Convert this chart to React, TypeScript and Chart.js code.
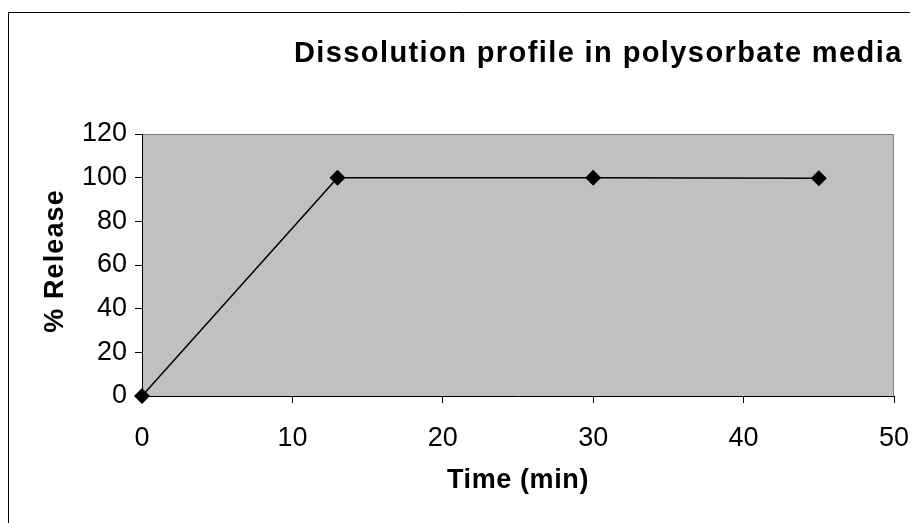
import React, { useEffect, useRef } from "react";
import { Chart, registerables } from "chart.js";

Chart.register(...registerables);

const chartTitle = "Dissolution profile in polysorbate media";
const xAxisTitle = "Time (min)";
const yAxisTitle = "% Release";
const timeMin = [0, 13, 30, 45];
const releasePct = [0, 100, 100, 99.7];

const FONT = "'Liberation Sans', Arial, Helvetica, sans-serif";

function spacedTitle(s: any, spacing: string, dy: number) {
  if (s._spacedPatched) return;
  const orig = s.drawTitle;
  s.drawTitle = function (...args: any[]) {
    const ctx = this.ctx;
    ctx.save();
    (ctx as any).letterSpacing = spacing;
    ctx.translate(0, dy);
    orig.apply(this, args);
    ctx.restore();
  };
  s._spacedPatched = true;
}

const decorPlugin = {
  id: "decor",
  beforeDraw(chart: any) {
    const { ctx, chartArea } = chart;
    const { left, top, right, bottom } = chartArea;
    ctx.save();
    // outer chart border (left & top visible)
    ctx.strokeStyle = "#000";
    ctx.lineWidth = 1;
    ctx.beginPath();
    ctx.moveTo(0.5, chart.height);
    ctx.lineTo(0.5, 4.5);
    ctx.lineTo(chart.width, 4.5);
    ctx.stroke();
    // plot area
    ctx.fillStyle = "#c0c0c0";
    ctx.fillRect(left, top, right - left, bottom - top);
    ctx.strokeStyle = "#808080";
    ctx.beginPath();
    ctx.moveTo(left, top + 0.5);
    ctx.lineTo(right - 0.5, top + 0.5);
    ctx.lineTo(right - 0.5, bottom);
    ctx.stroke();
    // title
    ctx.fillStyle = "#000";
    ctx.font = `bold 29px ${FONT}`;
    (ctx as any).letterSpacing = "1.4px";
    ctx.textAlign = "left";
    ctx.textBaseline = "alphabetic";
    ctx.fillText(chartTitle, 286, 54);
    ctx.restore();
  },
};

export default function App() {
  const ref = useRef<HTMLCanvasElement>(null);
  useEffect(() => {
    if (!ref.current) return;
    const chart = new Chart(ref.current, {
      type: "line",
      data: {
        datasets: [
          {
            data: timeMin.map((t, i) => ({ x: t, y: releasePct[i] })),
            borderColor: "#000",
            borderWidth: 1.5,
            pointStyle: "rectRot",
            pointRadius: 8,
            pointBackgroundColor: "#000",
            pointBorderColor: "#000",
            pointBorderWidth: 0,
            tension: 0,
            clip: false as any,
          },
        ],
      },
      options: {
        responsive: false,
        animation: false,
        layout: { padding: { top: 126, right: 24, left: 0, bottom: 0 } },
        plugins: { legend: { display: false }, tooltip: { enabled: false }, title: { display: false } },
        scales: {
          x: {
            type: "linear",
            min: 0,
            max: 50,
            ticks: { stepSize: 10, color: "#000", font: { family: FONT, size: 27 }, padding: 19 },
            grid: { drawOnChartArea: false, drawTicks: true, tickLength: 7, color: "#000" },
            border: { color: "#000", width: 1 },
            title: {
              display: true,
              text: xAxisTitle,
              color: "#000",
              font: { family: FONT, size: 27, weight: "bold" },
              padding: { top: 0, bottom: 26 },
            },
            afterFit: (s: any) => {
              s.height = 127;
              s.paddingLeft = 0;
              s.paddingRight = 0;
              spacedTitle(s, "0.6px", 0);
            },
          },
          y: {
            min: 0,
            max: 120,
            ticks: { stepSize: 20, color: "#000", font: { family: FONT, size: 27 }, padding: 8 },
            grid: { drawOnChartArea: false, drawTicks: true, tickLength: 7, color: "#000" },
            border: { color: "#000", width: 1 },
            title: {
              display: true,
              text: yAxisTitle,
              color: "#000",
              font: { family: FONT, size: 27, weight: "bold" },
              padding: { top: 31, bottom: 0 },
            },
            afterFit: (s: any) => {
              s.width = 134;
              s.paddingTop = 0;
              s.paddingBottom = 0;
              spacedTitle(s, "1.1px", -4);
            },
          },
        },
      },
      plugins: [decorPlugin],
    });
    return () => chart.destroy();
  }, []);
  return (
    <div style={{ width: 910, height: 515 }}>
      <canvas ref={ref} width={910} height={515} style={{ display: "block" }} />
    </div>
  );
}
